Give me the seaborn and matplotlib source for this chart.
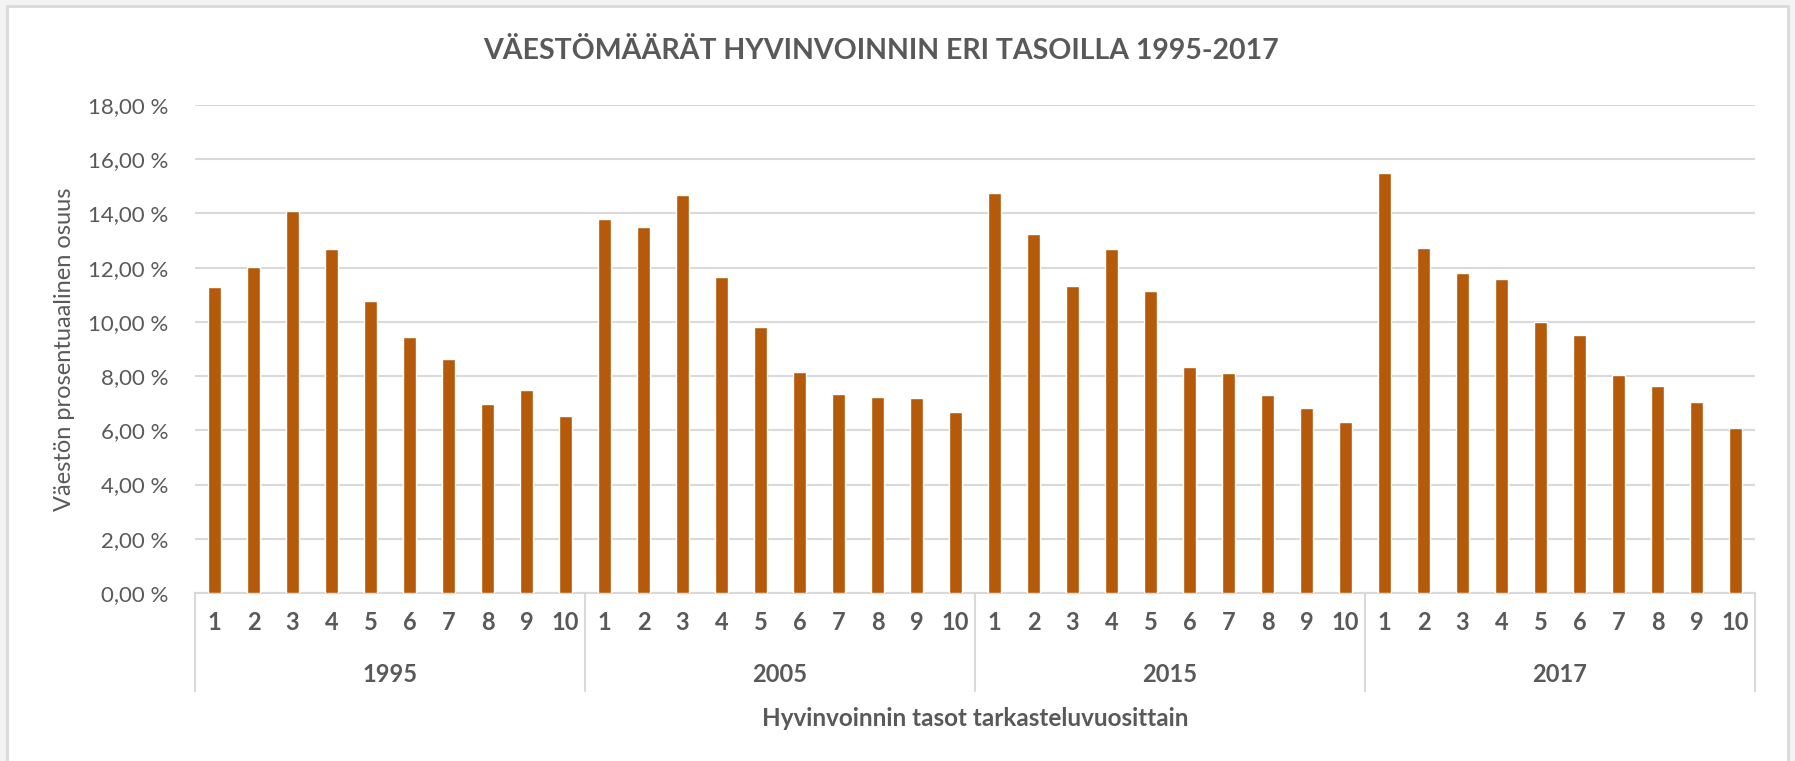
import numpy as np
import matplotlib.pyplot as plt
import matplotlib.transforms as mtransforms
import pandas as pd
import seaborn as sns
from matplotlib.patches import Rectangle
from matplotlib.ticker import FuncFormatter, MultipleLocator

# Data (percent of population per wellbeing level)
years = ['1995', '2005', '2015', '2017']
levels = ['1', '2', '3', '4', '5', '6', '7', '8', '9', '10']
share_1995 = [11.28, 12.01, 14.10, 12.68, 10.77, 9.44, 8.62, 6.98, 7.50, 6.52]
share_2005 = [13.80, 13.49, 14.68, 11.65, 9.80, 8.17, 7.34, 7.24, 7.19, 6.67]
share_2015 = [14.77, 13.23, 11.34, 12.68, 11.13, 8.32, 8.12, 7.29, 6.83, 6.32]
share_2017 = [15.49, 12.71, 11.80, 11.60, 10.01, 9.50, 8.04, 7.65, 7.03, 6.10]

title = 'VÄESTÖMÄÄRÄT HYVINVOINNIN ERI TASOILLA 1995-2017'
x_title = 'Hyvinvoinnin tasot tarkasteluvuosittain'
y_title = 'Väestön prosentuaalinen osuus'

df = pd.DataFrame({
    'year': np.repeat(years, len(levels)),
    'level': levels * len(years),
    'share': share_1995 + share_2005 + share_2015 + share_2017,
})
df['slot'] = df['year'] + '-' + df['level']

sns.set_style('white')
plt.rcParams['font.family'] = ['Lato', 'DejaVu Sans']
text_col = '#595959'
grid_col = '#d9d9d9'
bar_col = '#b5590a'

W, H = 1795, 761
fig = plt.figure(figsize=(W / 100, H / 100), dpi=100, facecolor='#f3f3f3')
# white chart area with light frame (drawn behind the axes)
frame = Rectangle((7 / W, -0.02), (1788 - 7) / W, 1 - 6 / H + 0.02,
                  transform=fig.transFigure, facecolor='white',
                  edgecolor=grid_col, linewidth=2, zorder=-10)
fig.patches.append(frame)

left, right, bottom, top = 195, 1755, 593, 105
ax = fig.add_axes([left / W, (H - bottom) / H, (right - left) / W, (bottom - top) / H])
ax.set_facecolor('none')

sns.barplot(data=df, x='slot', y='share', order=list(df['slot']), color=bar_col,
            saturation=1, width=0.33, ax=ax, zorder=3)

ax.set_ylim(0, 18)
ax.set_xlim(-0.5, len(df) - 0.5)
ax.yaxis.set_major_locator(MultipleLocator(2))
ax.yaxis.set_major_formatter(FuncFormatter(lambda v, p: f'{v:.2f}'.replace('.', ',') + ' %'))
ax.grid(axis='y', color=grid_col, linewidth=1.5, zorder=0)
ax.set_axisbelow(True)
for s in ['top', 'right', 'left']:
    ax.spines[s].set_visible(False)
ax.spines['bottom'].set_color(grid_col)
ax.spines['bottom'].set_linewidth(1.5)

ax.set_xticks(range(len(df)))
ax.set_xticklabels(df['level'], fontsize=17, fontweight='bold', color=text_col)
ax.tick_params(axis='x', length=0, pad=13)
ax.tick_params(axis='y', length=0, pad=19, labelsize=16, labelcolor=text_col)

ax_h = bottom - top
trans = mtransforms.blended_transform_factory(ax.transData, ax.transAxes)
for k in range(len(years) + 1):
    ax.plot([k * 10 - 0.5] * 2, [0, -98 / ax_h], transform=trans, color=grid_col,
            linewidth=1.5, clip_on=False)
for k, yr in enumerate(years):
    ax.text(k * 10 + 4.5, -82 / ax_h, yr, transform=trans, ha='center', va='center',
            fontsize=17, fontweight='bold', color=text_col)

ax.set_xlabel(x_title, fontsize=17.5, fontweight='bold', color=text_col, va='center')
ax.xaxis.set_label_coords(0.5, -125 / ax_h)
ax.set_ylabel(y_title, fontsize=17, color=text_col, va='center')
ax.yaxis.set_label_coords((65 - left) / (right - left), 0.5)

fig.text(881 / W, 1 - 51 / H, title, ha='center', va='center', fontsize=20.5,
         fontweight='bold', color=text_col)

fig.savefig('out.png', dpi=100, facecolor=fig.get_facecolor())
